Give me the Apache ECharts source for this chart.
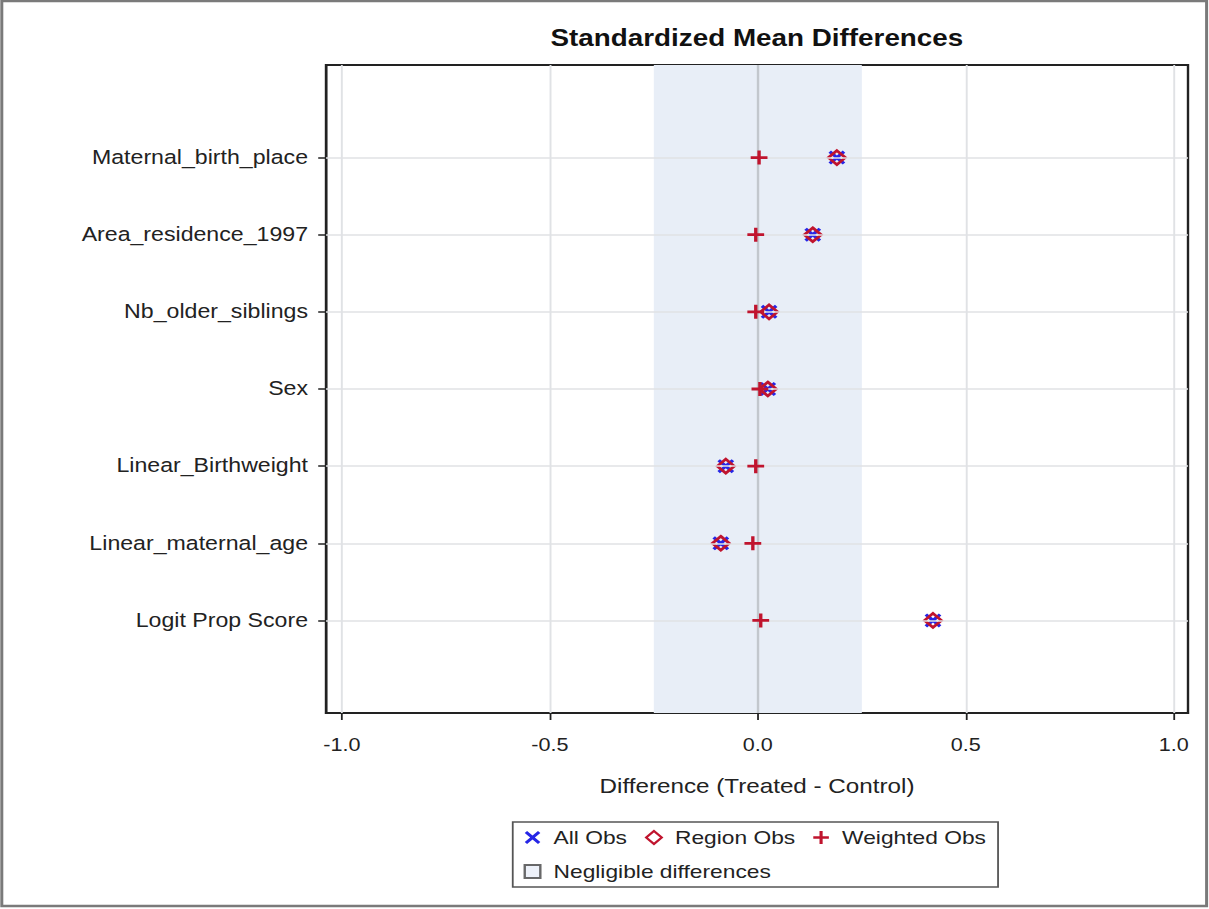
<!DOCTYPE html>
<html>
<head>
<meta charset="utf-8">
<script src="https://cdn.jsdelivr.net/npm/echarts@6/dist/echarts.min.js"></script>
<style>
  html, body { margin: 0; padding: 0; background: #fff; overflow: hidden; }
  #chart { width: 1008px; height: 909px; transform: scaleX(1.19940); transform-origin: 0 0; }
</style>
</head>
<body>
<div id="chart"></div>
<script>
// ---- data ----
const categories = ['Logit Prop Score', 'Linear_maternal_age', 'Linear_Birthweight', 'Sex',
                    'Nb_older_siblings', 'Area_residence_1997', 'Maternal_birth_place'];
const allObs      = [0.421, -0.089, -0.077, 0.024, 0.027, 0.132, 0.190];
const regionObs   = [0.421, -0.089, -0.077, 0.024, 0.027, 0.132, 0.190];
const weightedObs = [0.007, -0.012, -0.005, 0.005, -0.005, -0.005, 0.003];
const xTicks = [-1.0, -0.5, 0.0, 0.5, 1.0];
const negligibleBand = [-0.25, 0.25];

const BLUE = '#2626e6';
const RED = '#c0142e';
const X_PATH = 'path://M0,3L3,0L10,7L17,0L20,3L13,10L20,17L17,20L10,13L3,20L0,17L7,10Z';
const PLUS_PATH = 'path://M8,0H12V8H20V12H12V20H8V12H0V8H8Z';
const DIAMOND_PATH = 'path://M10,0L20,10L10,20L0,10Z';
const SQUARE_PATH = 'path://M0,0H10V10H0Z';

const catIdx = categories.map((c, i) => i);
const toPts = arr => arr.map((v, i) => [v, i]);

const chart = echarts.init(document.getElementById('chart'), null, { renderer: 'svg' });
const FONT = '"Liberation Sans", Arial, sans-serif';

chart.setOption({
  animation: false,
  textStyle: { fontFamily: FONT },
  title: {
    text: 'Standardized Mean Differences',
    left: 459, top: 26, padding: 0,
    textStyle: { fontFamily: FONT, fontSize: 23.2, fontWeight: 'bold', color: '#111' }
  },
  graphic: [{
    type: 'rect', silent: true, z: 100,
    shape: { x: 1.5, y: 1, width: 1004.5, height: 905 },
    style: { fill: 'none', stroke: '#7a7a7a', lineWidth: 2.5 }
  }],
  grid: {
    left: 271.8, right: 17.5, top: 65, bottom: 196,
    show: true, borderColor: '#222', borderWidth: 2, backgroundColor: 'transparent'
  },
  xAxis: {
    type: 'value', min: -1.038, max: 1.034,
    name: 'Difference (Treated - Control)', nameLocation: 'middle', nameGap: 63,
    nameTextStyle: { fontFamily: FONT, fontSize: 20.2, color: '#222' },
    axisLine: { show: true, onZero: false, lineStyle: { color: '#222', width: 2 } },
    axisTick: { show: true, customValues: xTicks, length: 7, lineStyle: { color: '#222', width: 1.5 } },
    axisLabel: { customValues: xTicks, margin: 23, fontFamily: FONT, fontSize: 18, color: '#222',
                 formatter: v => v.toFixed(1) },
    splitLine: { show: false }
  },
  yAxis: {
    type: 'value', min: -1.2, max: 7.2,
    axisLine: { show: true, onZero: false, lineStyle: { color: '#222', width: 2 } },
    axisTick: { show: true, customValues: catIdx, length: 6.5, lineStyle: { color: '#222', width: 1.5 } },
    axisLabel: { customValues: catIdx, margin: 15, fontFamily: FONT, fontSize: 19.3, color: '#222',
                 formatter: v => categories[Math.round(v)] },
    splitLine: { show: false }
  },
  legend: {
    left: 427.5, top: 822, width: 440,
    orient: 'horizontal', selectedMode: false,
    padding: [6, 10, 6, 9],
    borderColor: '#555', borderWidth: 1.5,
    itemGap: 15, itemWidth: 25, itemHeight: 13,
    symbolKeepAspect: true,
    textStyle: { fontFamily: FONT, fontSize: 19, color: '#222' },
    data: [
      { name: 'All Obs', icon: X_PATH },
      { name: 'Region Obs', icon: DIAMOND_PATH },
      { name: 'Weighted Obs', icon: PLUS_PATH },
      { name: 'Negligible differences', icon: SQUARE_PATH }
    ]
  },
  series: [
    {
      name: 'Negligible differences', type: 'scatter', data: [], z: 1,
      symbol: SQUARE_PATH,
      itemStyle: { color: '#e8eef7', borderColor: '#444', borderWidth: 1.5 },
      markArea: {
        silent: true,
        itemStyle: { color: '#e8eef7' },
        data: [[{ xAxis: negligibleBand[0] }, { xAxis: negligibleBand[1] }]]
      }
    },
    {
      name: 'gridlines', type: 'scatter', data: [], z: 2, silent: true,
      markLine: {
        silent: true, symbol: ['none', 'none'], label: { show: false },
        lineStyle: { color: '#e0e2e5', width: 1.6, type: 'solid' },
        data: xTicks.filter(v => v !== 0).map(v => ({ xAxis: v }))
          .concat(catIdx.map(i => ({ yAxis: i })))
          .concat([{ xAxis: 0, lineStyle: { color: '#c2c7cd', width: 2 } }])
      }
    },
    {
      name: 'All Obs', type: 'scatter', z: 3,
      symbol: X_PATH, symbolSize: 14, symbolKeepAspect: true,
      itemStyle: { color: BLUE, opacity: 1 },
      data: toPts(allObs)
    },
    {
      name: 'Region Obs', type: 'scatter', z: 4,
      symbol: DIAMOND_PATH, symbolSize: 14, symbolKeepAspect: true,
      itemStyle: { color: 'rgba(0,0,0,0)', borderColor: RED, borderWidth: 2.6, opacity: 1 },
      data: toPts(regionObs)
    },
    {
      name: 'Weighted Obs', type: 'scatter', z: 5,
      symbol: PLUS_PATH, symbolSize: 14, symbolKeepAspect: true,
      itemStyle: { color: RED, opacity: 1 },
      data: toPts(weightedObs)
    }
  ]
});
</script>
</body>
</html>
